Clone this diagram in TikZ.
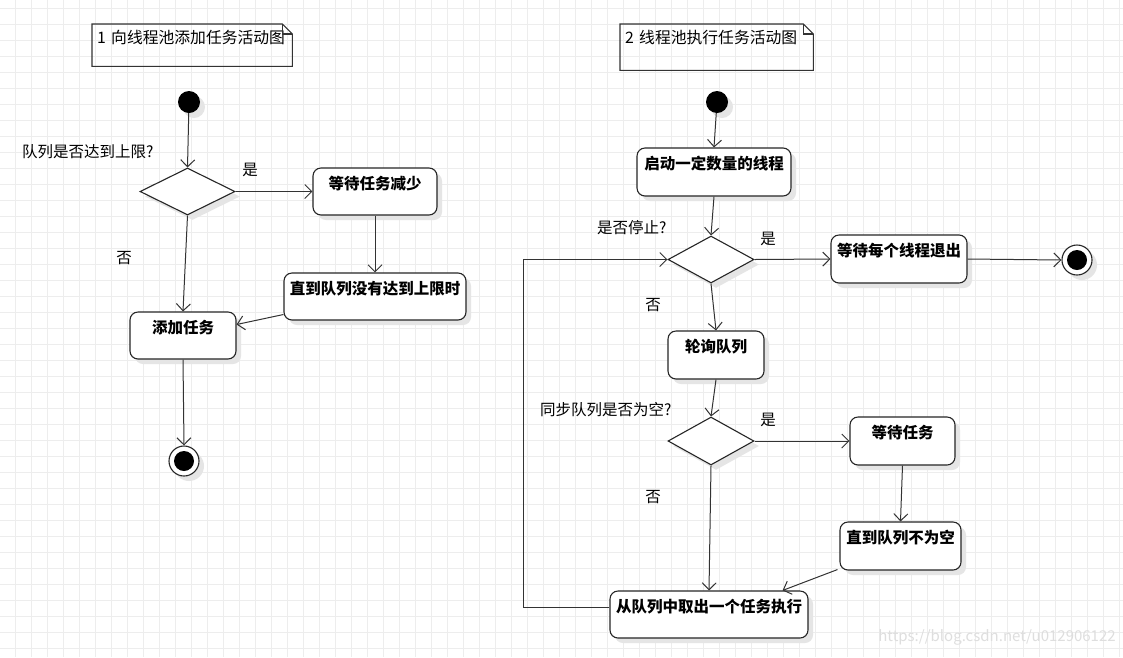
\documentclass[tikz,border=0pt]{standalone}
\usepackage{fontspec}
\setmainfont{Noto Sans CJK SC}
\usetikzlibrary{shapes.geometric, arrows.meta, shadows, calc}

\begin{document}
\begin{tikzpicture}[
    x=1pt, y=-1pt,
    font=\fontsize{15.5}{18}\selectfont,
    shade/.style={drop shadow={shadow xshift=5pt, shadow yshift=-5pt,
                  fill=black!10, opacity=1}},
    action/.style={rectangle, draw=black!85, line width=1.1pt, rounded corners=8pt,
                   fill=white, font=\bfseries\fontsize{15.5}{18}\selectfont,
                   text height=17pt, text depth=22pt, inner xsep=3pt, inner ysep=4pt,
                   minimum height=47pt, shade},
    decision/.style={diamond, draw=black!85, line width=1.1pt, fill=white,
                     inner sep=0pt, minimum width=86pt, minimum height=47pt, shade},
    initial/.style={circle, fill=black, inner sep=0pt, minimum size=22pt, shade},
    final/.style={circle, draw=black!85, line width=1.1pt, fill=white, inner sep=0pt,
                  minimum size=30pt, shade,
                  path picture={\fill[black] (path picture bounding box.center) circle (10pt);}},
    note/.style={anchor=north west, align=left, inner xsep=5pt, inner ysep=4pt,
                 text height=15pt, font=\fontsize{15.8}{18}\selectfont},
    noteline/.style={draw=black!80, line width=1.1pt},
    arr/.style={draw=black!80, line width=1pt,
                -{Straight Barb[length=7pt, width=14pt]}},
    question/.style={anchor=west, inner sep=0pt},
    guard/.style={inner sep=0pt},
    gridline/.style={draw=black!7, line width=0.8pt},
]

% background and grid
\fill[white] (0,0) rectangle (1123,657);
\useasboundingbox (0,0) rectangle (1123,657);
\foreach \gx in {0,...,69}
    \draw[gridline] ({15.7+16*\gx},0) -- ({15.7+16*\gx},657);
\foreach \gy in {0,...,40}
    \draw[gridline] (0,{8+16*\gy}) -- (1123,{8+16*\gy});

% notes
\node[note, text width=190pt, text depth=19pt] (note1) at (92,24) {\mbox{1 向线程池添加任务活动图}};
\node[note, text width=183pt, text depth=23pt] (note2) at (620,24) {\mbox{2 线程池执行任务活动图}};
\foreach \n in {note1, note2} {
    \draw[noteline] (\n.north west) -- ([xshift=-10pt]\n.north east)
        -- ([yshift=-10pt]\n.north east) -- (\n.south east) -- (\n.south west) -- cycle;
    \draw[noteline] ([xshift=-10pt]\n.north east) -- ([xshift=-10pt, yshift=-10pt]\n.north east)
        -- ([yshift=-10pt]\n.north east);
}

% 1: add task
\node[initial]                          (start1) at (189,102)   {};
\node[decision, minimum width=95pt]     (full)   at (187.5,191.5) {};
\node[action, minimum width=124pt]      (waitdec) at (375,191.5) {等待任务减少};
\node[action, minimum width=182pt]      (untilok) at (375,296.5) {直到队列没有达到上限时};
\node[action, minimum width=106pt]      (addtask) at (183,335.5) {添加任务};
\node[final]                            (end1)   at (184,461)   {};

\node[question] (qfull) at (22,152) {队列是否达到上限?};
\node[guard]    (yes1)  at (250,170) {是};
\node[guard]    (no1)   at (124,258) {否};

\draw[arr] (start1) -- (full.north);
\draw[arr] (full.east) -- (waitdec.west);
\draw[arr] (waitdec.south) -- (untilok.north);
\draw[arr] ($(untilok.west)+(0,18)$) -- ($(addtask.east)+(0,-11)$);
\draw[arr] (full.south) -- (addtask.north);
\draw[arr] (addtask.south) -- (end1.north);

% 2: run tasks
\node[initial]                          (start2)  at (717,102) {};
\node[action, minimum width=154pt, minimum height=48pt] (launch) at (714,172) {启动一定数量的线程};
\node[decision]                         (stop)    at (711,259.5) {};
\node[action, minimum width=136pt, minimum height=48pt] (waitall) at (899,259) {等待每个线程退出};
\node[final]                            (end2)    at (1077,260) {};
\node[action, minimum width=96pt, minimum height=48pt]  (poll)    at (716,355) {轮询队列};
\node[decision, minimum height=48pt]    (empty)   at (711,441) {};
\node[action, minimum width=105pt, minimum height=48pt] (waittask) at (902.5,441) {等待任务};
\node[action, minimum width=121pt, minimum height=48pt] (untilne) at (900.5,546) {直到队列不为空};
\node[action, minimum width=198pt]      (exec)    at (709,614.5) {从队列中取出一个任务执行};
\coordinate (loop) at (523,607);

\node[question] (qstop)  at (597,228) {是否停止?};
\node[guard]    (yes2)   at (768,239) {是};
\node[guard]    (no2)    at (653,305) {否};
\node[question] (qempty) at (540,410) {同步队列是否为空?};
\node[guard]    (yes3)   at (768,420) {是};
\node[guard]    (no3)    at (653,497) {否};

\draw[arr] (start2) -- (launch.north);
\draw[arr] (launch.south) -- (stop.north);
\draw[arr] (stop.east) -- (waitall.west);
\draw[arr] (waitall.east) -- (end2.west);
\draw[arr] (stop.south) -- (poll.north);
\draw[arr] (poll.south) -- (empty.north);
\draw[arr] (empty.east) -- (waittask.west);
\draw[arr] (waittask.south) -- (untilne.north);
\draw[arr] ($(untilne.south west)+(-2,-1)$) -- ($(exec.north east)+(-26,0)$);
\draw[arr] (empty.south) -- (exec.north);
\draw[arr] (exec.west |- loop) -- (loop) |- (stop.west);

% watermark
\node[text=black!13, font=\fontsize{15}{18}\selectfont] (mark) at (997,637) {https://blog.csdn.net/u012906122};

\end{tikzpicture}
\end{document}
